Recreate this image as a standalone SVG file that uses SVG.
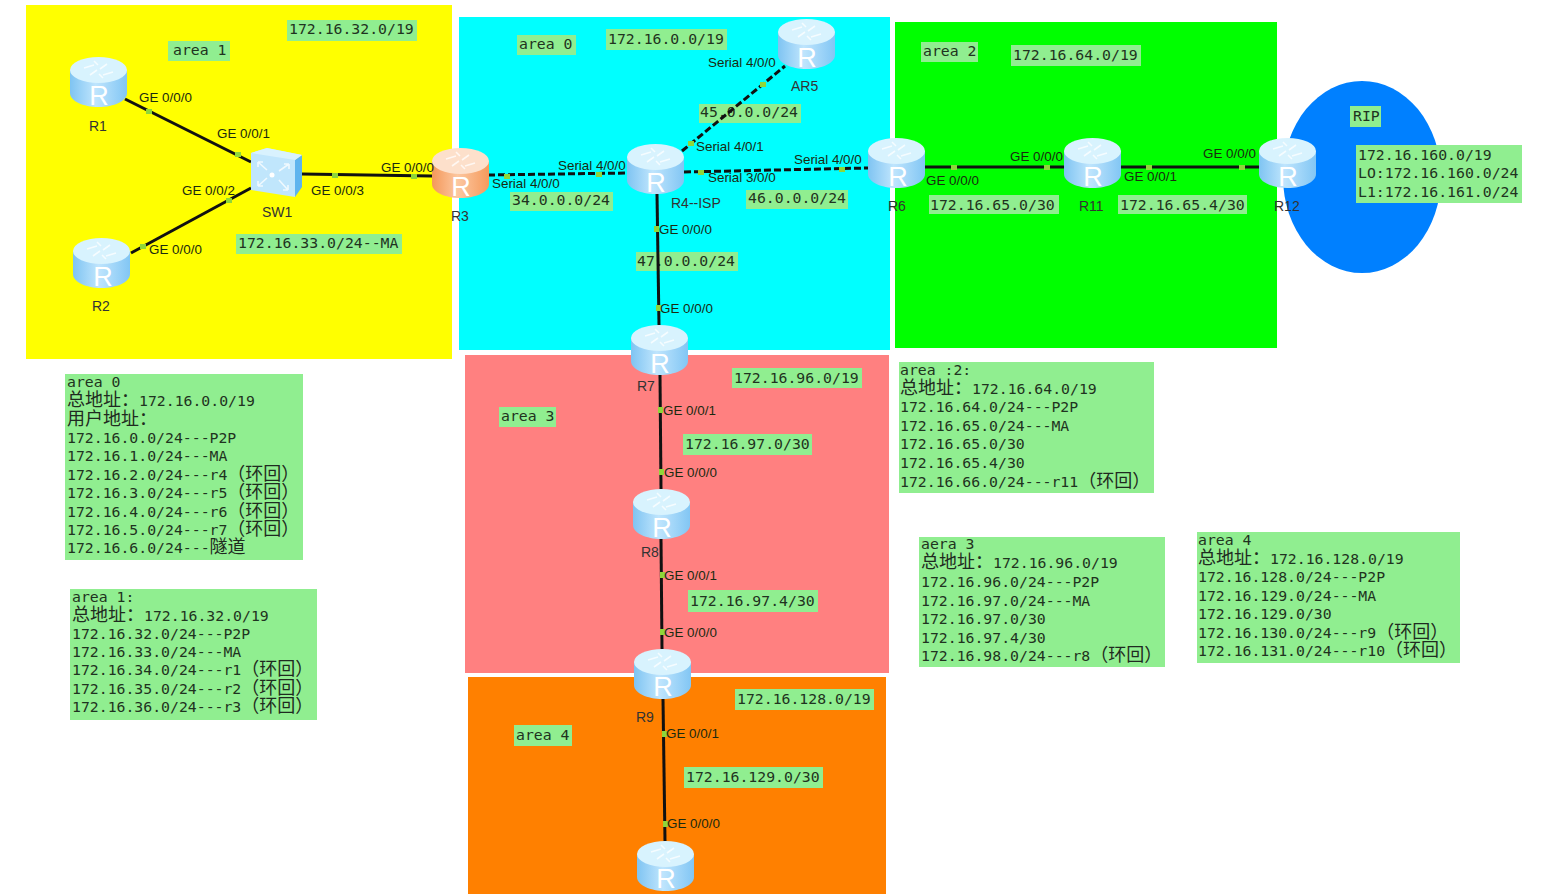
<svg xmlns="http://www.w3.org/2000/svg" width="1544" height="894" viewBox="0 0 1544 894">
<style>
.lb{fill:#90ee90}
.m{font-family:"DejaVu Sans Mono","Liberation Mono","Noto Sans CJK SC",monospace;font-size:14.8px;fill:#1f3320}
.c{font-family:"Noto Sans CJK SC","DejaVu Sans",sans-serif;font-size:18px;fill:#1f2a20}
.i{font-family:"Liberation Sans",Arial,sans-serif;font-size:13.4px;fill:#1a2a10}
.n{font-family:"Liberation Sans",Arial,sans-serif;font-size:14px;fill:#333}
.r{font-family:"Liberation Sans",Arial,sans-serif;font-size:27px;fill:#fff}
.ln{fill:none;stroke:#111;stroke-width:3}
.ds{stroke-dasharray:7 3}
.dot{fill:#8fd63a}
.gl{fill:none;stroke:#fff;stroke-width:1.6;opacity:.75}
</style>
<defs>
<linearGradient id="gb" x1="0" x2="1" y1="0" y2="0"><stop offset="0" stop-color="#7fc4f2"/><stop offset=".45" stop-color="#bfe5fd"/><stop offset="1" stop-color="#82c6f4"/></linearGradient>
<linearGradient id="go" x1="0" x2="1" y1="0" y2="0"><stop offset="0" stop-color="#f4985a"/><stop offset=".45" stop-color="#fcc7a0"/><stop offset="1" stop-color="#f59a5c"/></linearGradient>
<symbol id="router" width="57" height="50" viewBox="0 0 57 50" overflow="visible">
<path d="M0 13V36C0 44 13 50 28.500 50S57 44 57 36V13Z" fill="url(#gb)"/>
<ellipse cx="28.500" cy="13" rx="28.500" ry="13" fill="#d8f3fe"/>
<path class="gl" d="M14 11L24 8M33 18L43 15M20 18L27 13M30 12L37 7M24 4L28 8M29 17L33 21"/>
</symbol>
<symbol id="router-o" width="57" height="50" viewBox="0 0 57 50" overflow="visible">
<path d="M0 13V36C0 44 13 50 28.500 50S57 44 57 36V13Z" fill="url(#go)"/>
<ellipse cx="28.500" cy="13" rx="28.500" ry="13" fill="#fde0cb"/>
<path class="gl" d="M14 11L24 8M33 18L43 15M20 18L27 13M30 12L37 7M24 4L28 8M29 17L33 21"/>
</symbol>
</defs>
<rect width="1544" height="894" fill="#fff"/>
<g id="areas">
<rect x="26" y="5" width="426" height="354" fill="#ff0"/>
<rect x="459" y="17" width="431" height="333" fill="#0ff"/>
<rect x="895" y="22" width="382" height="326" fill="#0f0"/>
<rect x="465" y="355" width="424" height="318" fill="#ff8080"/>
<rect x="468" y="677" width="418" height="217" fill="#ff8000"/>
<ellipse cx="1362" cy="177" rx="79" ry="96" fill="#0080ff"/>
</g>
<g id="network-labels">
<rect class="lb" x="168" y="41" width="62" height="20"/><text class="m" x="173" y="55">area 1</text>
<rect class="lb" x="287" y="20" width="130" height="21"/><text class="m" x="289" y="34">172.16.32.0/19</text>
<rect class="lb" x="236" y="234" width="166" height="20"/><text class="m" x="238" y="248">172.16.33.0/24--MA</text>
<rect class="lb" x="517" y="35" width="59" height="20"/><text class="m" x="519" y="49">area 0</text>
<rect class="lb" x="606" y="29" width="121" height="21"/><text class="m" x="608" y="44">172.16.0.0/19</text>
<rect class="lb" x="699" y="104" width="102" height="19"/><text class="m" x="700" y="117">45.0.0.0/24</text>
<rect class="lb" x="510" y="192" width="103" height="19"/><text class="m" x="512" y="205">34.0.0.0/24</text>
<rect class="lb" x="746" y="190" width="102" height="19"/><text class="m" x="748" y="203">46.0.0.0/24</text>
<rect class="lb" x="636" y="252" width="102" height="19"/><text class="m" x="637" y="266">47.0.0.0/24</text>
<rect class="lb" x="921" y="42" width="57" height="20"/><text class="m" x="923" y="56">area 2</text>
<rect class="lb" x="1011" y="45" width="130" height="21"/><text class="m" x="1013" y="60">172.16.64.0/19</text>
<rect class="lb" x="929" y="195" width="130" height="19"/><text class="m" x="930" y="210">172.16.65.0/30</text>
<rect class="lb" x="1118" y="195" width="129" height="19"/><text class="m" x="1120" y="210">172.16.65.4/30</text>
<rect class="lb" x="1350" y="106" width="31" height="21"/><text class="m" x="1353" y="121">RIP</text>
<rect class="lb" x="499" y="407" width="57" height="20"/><text class="m" x="501" y="421">area 3</text>
<rect class="lb" x="732" y="368" width="130" height="20"/><text class="m" x="734" y="383">172.16.96.0/19</text>
<rect class="lb" x="683" y="434" width="129" height="21"/><text class="m" x="685" y="449">172.16.97.0/30</text>
<rect class="lb" x="688" y="590" width="130" height="22"/><text class="m" x="690" y="606">172.16.97.4/30</text>
<rect class="lb" x="514" y="725" width="58" height="21"/><text class="m" x="516" y="740">area 4</text>
<rect class="lb" x="735" y="689" width="139" height="21"/><text class="m" x="737" y="704">172.16.128.0/19</text>
<rect class="lb" x="684" y="767" width="139" height="21"/><text class="m" x="686" y="782">172.16.129.0/30</text>
</g>
<g id="connectors">
<path class="ln" d="M125 99L251 162"/>
<path class="ln" d="M251 188L131 253"/>
<path class="ln" d="M302 174L432 176"/>
<path class="ln ds" d="M488 175L627 173"/>
<path class="ln ds" d="M682 151L785 66"/>
<path class="ln ds" d="M684 172L868 168"/>
<path class="ln" d="M657 194L659 325"/>
<path class="ln" d="M925 167H1064"/>
<path class="ln" d="M1120 167H1259"/>
<path class="ln" d="M660 375L661 489"/>
<path class="ln" d="M661 539L662 649"/>
<path class="ln" d="M663 699L665 841"/>
<g class="dot">
<rect x="146" y="109" width="6" height="5"/><rect x="235" y="152" width="6" height="5"/>
<rect x="226" y="198" width="6" height="5"/><rect x="140" y="244" width="6" height="5"/>
<rect x="332" y="173" width="6" height="5"/><rect x="411" y="174" width="6" height="5"/>
<rect x="504" y="174" width="6" height="5"/><rect x="596" y="172" width="6" height="5"/>
<rect x="688" y="141" width="6" height="5"/><rect x="760" y="82" width="6" height="5"/>
<rect x="698" y="170" width="6" height="5"/><rect x="839" y="167" width="6" height="5"/>
<rect x="654" y="226" width="5" height="6"/><rect x="656" y="305" width="5" height="6"/>
<rect x="951" y="165" width="6" height="5"/><rect x="1044" y="165" width="6" height="5"/>
<rect x="1146" y="165" width="6" height="5"/><rect x="1239" y="165" width="6" height="5"/>
<rect x="658" y="407" width="5" height="6"/><rect x="659" y="469" width="5" height="6"/>
<rect x="660" y="572" width="5" height="6"/><rect x="660" y="629" width="5" height="6"/>
<rect x="662" y="731" width="5" height="6"/><rect x="663" y="821" width="5" height="6"/>
</g>
</g>
<g id="R1"><use href="#router" x="70" y="57"/><text class="r" x="99" y="105" text-anchor="middle">R</text><text class="n" x="89" y="131">R1</text></g>
<g id="R2"><use href="#router" x="73" y="238"/><text class="r" x="103" y="286" text-anchor="middle">R</text><text class="n" x="92" y="311">R2</text></g>
<g id="SW1">
<path d="M251 153L267 148L302 155L295 160L295 197L251 190Z" fill="#c0e6fc"/>
<path d="M295 160L302 155V187L295 197Z" fill="#5eb4ee"/>
<path d="M251 153L267 148L302 155L295 160Z" fill="#d9f2fe"/>
<path class="gl" d="M258 162L267 170M258 162h5M258 162v5M289 164L279 171M289 164h-5M289 164v5M258 186L267 178M258 186h5M258 186v-5M288 190L279 180M288 190h-5M288 190v-5"/>
<circle cx="272" cy="175" r="2.500" fill="#fff"/>
<text class="n" x="262" y="217">SW1</text>
</g>
<g id="R3"><use href="#router-o" x="432" y="148"/><text class="r" x="461" y="196" text-anchor="middle">R</text><text class="n" x="451" y="221">R3</text></g>
<g id="AR5"><use href="#router" x="778" y="19"/><text class="r" x="807" y="67" text-anchor="middle">R</text><text class="n" x="791" y="91">AR5</text></g>
<g id="R4-ISP"><use href="#router" x="627" y="144"/><text class="r" x="656" y="192" text-anchor="middle">R</text><text class="n" x="671" y="208">R4--ISP</text></g>
<g id="R6"><use href="#router" x="868" y="138"/><text class="r" x="898" y="186" text-anchor="middle">R</text><text class="n" x="888" y="211">R6</text></g>
<g id="R11"><use href="#router" x="1064" y="138"/><text class="r" x="1093" y="186" text-anchor="middle">R</text><text class="n" x="1079" y="211">R11</text></g>
<g id="R12"><use href="#router" x="1259" y="138"/><text class="r" x="1288" y="186" text-anchor="middle">R</text><text class="n" x="1274" y="211">R12</text></g>
<g id="R7"><use href="#router" x="631" y="325"/><text class="r" x="660" y="373" text-anchor="middle">R</text><text class="n" x="637" y="391">R7</text></g>
<g id="R8"><use href="#router" x="633" y="489"/><text class="r" x="662" y="537" text-anchor="middle">R</text><text class="n" x="641" y="557">R8</text></g>
<g id="R9"><use href="#router" x="634" y="649"/><text class="r" x="663" y="696" text-anchor="middle">R</text><text class="n" x="636" y="722">R9</text></g>
<g id="R10"><use href="#router" x="637" y="841"/><text class="r" x="666" y="888" text-anchor="middle">R</text></g>
<g id="interface-labels">
<text class="i" x="139" y="102">GE 0/0/0</text>
<text class="i" x="217" y="138">GE 0/0/1</text>
<text class="i" x="182" y="195">GE 0/0/2</text>
<text class="i" x="149" y="254">GE 0/0/0</text>
<text class="i" x="311" y="195">GE 0/0/3</text>
<text class="i" x="381" y="172">GE 0/0/0</text>
<text class="i" x="708" y="67">Serial 4/0/0</text>
<text class="i" x="696" y="151">Serial 4/0/1</text>
<text class="i" x="558" y="170">Serial 4/0/0</text>
<text class="i" x="492" y="188">Serial 4/0/0</text>
<text class="i" x="708" y="182">Serial 3/0/0</text>
<text class="i" x="794" y="164">Serial 4/0/0</text>
<text class="i" x="659" y="234">GE 0/0/0</text>
<text class="i" x="660" y="313">GE 0/0/0</text>
<text class="i" x="926" y="185">GE 0/0/0</text>
<text class="i" x="1010" y="161">GE 0/0/0</text>
<text class="i" x="1124" y="181">GE 0/0/1</text>
<text class="i" x="1203" y="158">GE 0/0/0</text>
<text class="i" x="663" y="415">GE 0/0/1</text>
<text class="i" x="664" y="477">GE 0/0/0</text>
<text class="i" x="664" y="580">GE 0/0/1</text>
<text class="i" x="664" y="637">GE 0/0/0</text>
<text class="i" x="666" y="738">GE 0/0/1</text>
<text class="i" x="667" y="828">GE 0/0/0</text>
</g>
<g id="panel-rip">
<rect class="lb" x="1356" y="145" width="166" height="58"/>
<text class="m" x="1358" y="160">172.16.160.0/19</text>
<text class="m" x="1358" y="178">LO:172.16.160.0/24</text>
<text class="m" x="1358" y="197">L1:172.16.161.0/24</text>
</g>
<g id="panel-area0">
<rect class="lb" x="65" y="374" width="238" height="186"/>
<text class="m" x="67" y="387">area 0</text>
<text class="m" x="67" y="406"><tspan class="c">总地址：</tspan>172.16.0.0/19</text>
<text class="c" x="67" y="425">用户地址：</text>
<text class="m" x="67" y="443">172.16.0.0/24---P2P</text>
<text class="m" x="67" y="461">172.16.1.0/24---MA</text>
<text class="m" x="67" y="480">172.16.2.0/24---r4<tspan class="c">（环回）</tspan></text>
<text class="m" x="67" y="498">172.16.3.0/24---r5<tspan class="c">（环回）</tspan></text>
<text class="m" x="67" y="517">172.16.4.0/24---r6<tspan class="c">（环回）</tspan></text>
<text class="m" x="67" y="535">172.16.5.0/24---r7<tspan class="c">（环回）</tspan></text>
<text class="m" x="67" y="553">172.16.6.0/24---<tspan class="c">隧道</tspan></text>
</g>
<g id="panel-area1">
<rect class="lb" x="70" y="589" width="247" height="131"/>
<text class="m" x="72" y="602">area 1:</text>
<text class="m" x="72" y="621"><tspan class="c">总地址：</tspan>172.16.32.0/19</text>
<text class="m" x="72" y="639">172.16.32.0/24---P2P</text>
<text class="m" x="72" y="657">172.16.33.0/24---MA</text>
<text class="m" x="72" y="675">172.16.34.0/24---r1<tspan class="c">（环回）</tspan></text>
<text class="m" x="72" y="694">172.16.35.0/24---r2<tspan class="c">（环回）</tspan></text>
<text class="m" x="72" y="712">172.16.36.0/24---r3<tspan class="c">（环回）</tspan></text>
</g>
<g id="panel-area2">
<rect class="lb" x="899" y="362" width="255" height="131"/>
<text class="m" x="900" y="375">area :2:</text>
<text class="m" x="900" y="394"><tspan class="c">总地址：</tspan>172.16.64.0/19</text>
<text class="m" x="900" y="412">172.16.64.0/24---P2P</text>
<text class="m" x="900" y="431">172.16.65.0/24---MA</text>
<text class="m" x="900" y="449">172.16.65.0/30</text>
<text class="m" x="900" y="468">172.16.65.4/30</text>
<text class="m" x="900" y="487">172.16.66.0/24---r11<tspan class="c">（环回）</tspan></text>
</g>
<g id="panel-area3">
<rect class="lb" x="919" y="537" width="246" height="130"/>
<text class="m" x="921" y="549">aera 3</text>
<text class="m" x="921" y="568"><tspan class="c">总地址：</tspan>172.16.96.0/19</text>
<text class="m" x="921" y="587">172.16.96.0/24---P2P</text>
<text class="m" x="921" y="606">172.16.97.0/24---MA</text>
<text class="m" x="921" y="624">172.16.97.0/30</text>
<text class="m" x="921" y="643">172.16.97.4/30</text>
<text class="m" x="921" y="661">172.16.98.0/24---r8<tspan class="c">（环回）</tspan></text>
</g>
<g id="panel-area4">
<rect class="lb" x="1197" y="532" width="263" height="131"/>
<text class="m" x="1198" y="545">area 4</text>
<text class="m" x="1198" y="564"><tspan class="c">总地址：</tspan>172.16.128.0/19</text>
<text class="m" x="1198" y="582">172.16.128.0/24---P2P</text>
<text class="m" x="1198" y="601">172.16.129.0/24---MA</text>
<text class="m" x="1198" y="619">172.16.129.0/30</text>
<text class="m" x="1198" y="638">172.16.130.0/24---r9<tspan class="c">（环回）</tspan></text>
<text class="m" x="1198" y="656">172.16.131.0/24---r10<tspan class="c">（环回）</tspan></text>
</g>
</svg>
